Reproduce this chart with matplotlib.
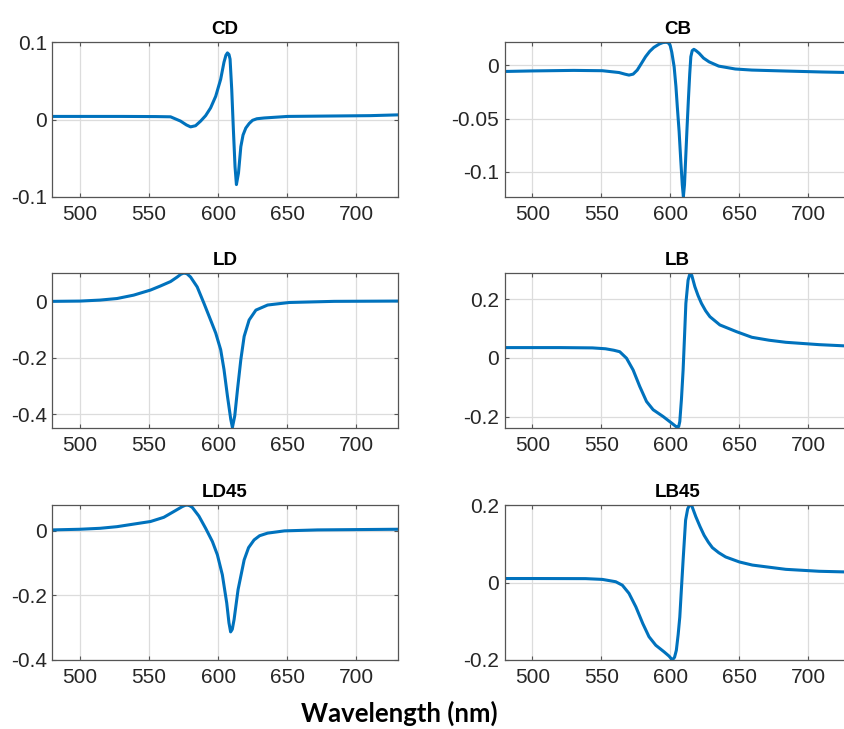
import matplotlib
matplotlib.use('Agg')
import matplotlib.pyplot as plt
import numpy as np

# Wavelength (nm) / value pairs
cd_wl = [480, 500, 530, 555, 565.5, 572.7, 577, 580, 583.6, 587.3, 590.9, 594.5, 598.2, 601.8, 604.2, 605.6, 606.7,
         607.8, 608.6, 609.8, 611, 612.2, 613.2, 614.7, 616.4, 618, 620, 622.5, 624.9, 628, 633.3, 650.3, 680, 710, 730]
cd_val = [0.004, 0.004, 0.004, 0.0038, 0.0035, -0.002, -0.007, -0.0095, -0.008, -0.002, 0.005, 0.015, 0.03, 0.052,
          0.074, 0.083, 0.086, 0.084, 0.078, 0.039, -0.013, -0.061, -0.084, -0.069, -0.035, -0.02, -0.011, -0.005,
          -0.001, 0.001, 0.002, 0.004, 0.0045, 0.005, 0.006]

cb_wl = [480, 500, 530, 550.7, 562.8, 567, 570, 573, 576, 579, 582, 585, 588, 592, 594.5, 596.6, 598.3, 599.8, 601,
         602.7, 604, 605, 606.3, 607.5, 608.6, 609.4, 610.2, 611, 612, 613, 614, 614.8, 615.8, 617, 618.5, 620.8,
         624, 628, 635, 647, 659, 683.6, 710, 730]
cb_val = [-0.006, -0.0055, -0.005, -0.0053, -0.007, -0.0085, -0.0094, -0.0085, -0.0047, 0.0015, 0.0078, 0.0128,
          0.0165, 0.0197, 0.021, 0.0213, 0.021, 0.0185, 0.012, -0.0016, -0.02, -0.039, -0.062, -0.089, -0.112, -0.123,
          -0.112, -0.089, -0.06, -0.033, -0.008, 0.0078, 0.0135, 0.0147, 0.0135, 0.011, 0.0065, 0.003, -0.001,
          -0.0037, -0.0047, -0.0056, -0.0065, -0.007]

ld_wl = [480, 500, 514.5, 526.7, 538.8, 551, 558, 565.5, 570.3, 573, 575.1, 577.3, 580, 584.8, 589.7, 594.5, 598.2,
         601.8, 604.2, 606.7, 609.1, 610.3, 612, 614, 616.4, 618.8, 622.4, 627.3, 635.8, 651.5, 684, 730]
ld_val = [-0.001, 0.0, 0.0035, 0.009, 0.021, 0.039, 0.053, 0.069, 0.085, 0.095, 0.099, 0.097, 0.085, 0.05, -0.008,
          -0.067, -0.113, -0.172, -0.242, -0.336, -0.418, -0.447, -0.406, -0.312, -0.207, -0.125, -0.067, -0.032,
          -0.014, -0.005, -0.001, 0.0]

lb_wl = [480, 500, 520, 543.5, 553, 559, 563.3, 568.2, 573, 577.8, 582.7, 587.5, 594.7, 600.8, 603.5, 604.9, 606,
         606.8, 608, 609.2, 610.2, 611.2, 612.8, 614, 614.5, 615.5, 617.7, 620, 622.5, 625.5, 628.6, 635.8, 647.9,
         659, 671.5, 683.6, 707.7, 730]
lb_val = [0.035, 0.035, 0.035, 0.034, 0.031, 0.026, 0.021, -0.001, -0.041, -0.097, -0.148, -0.176, -0.199, -0.221,
          -0.231, -0.236, -0.233, -0.216, -0.14, -0.041, 0.07, 0.185, 0.264, 0.284, 0.287, 0.28, 0.242, 0.212, 0.185,
          0.16, 0.14, 0.112, 0.089, 0.07, 0.06, 0.053, 0.045, 0.04]

ld45_wl = [480, 500, 514.5, 526.7, 538.8, 551, 560.6, 567.9, 573.9, 576, 577.6, 579.3, 581.2, 586, 590.9, 595.8,
           599.4, 603, 606.2, 607.8, 609, 610.2, 611.5, 614.4, 618.8, 622, 626, 630, 635.8, 648, 672, 730]
ld45_val = [0.003, 0.005, 0.008, 0.013, 0.021, 0.029, 0.042, 0.06, 0.075, 0.079, 0.08, 0.078, 0.073, 0.046, 0.008,
            -0.033, -0.074, -0.136, -0.224, -0.285, -0.313, -0.305, -0.275, -0.182, -0.09, -0.052, -0.028, -0.015,
            -0.007, 0.0, 0.003, 0.005]

lb45_wl = [480, 500, 538.6, 550.7, 560.4, 565.2, 570, 575, 580, 584.5, 589.4, 595.4, 599, 601.4, 603, 604.3, 605.6,
           606.8, 608, 609.2, 610.2, 611, 612.5, 613.6, 614.7, 615.7, 618.4, 621.5, 624.4, 627.5, 630.4, 635, 640,
           650, 659.4, 683.6, 707.7, 730]
lb45_val = [0.0103, 0.0103, 0.01, 0.008, 0.002, -0.007, -0.028, -0.063, -0.106, -0.14, -0.162, -0.179, -0.19, -0.2,
            -0.193, -0.175, -0.135, -0.089, -0.015, 0.058, 0.115, 0.161, 0.19, 0.198, 0.2, 0.196, 0.17, 0.144, 0.122,
            0.104, 0.09, 0.077, 0.066, 0.053, 0.045, 0.034, 0.029, 0.027]

titles = ['CD', 'CB', 'LD', 'LB', 'LD45', 'LB45']
series = [(cd_wl, cd_val), (cb_wl, cb_val), (ld_wl, ld_val), (lb_wl, lb_val), (ld45_wl, ld45_val), (lb45_wl, lb45_val)]
ylims = [(-0.1, 0.1), (-0.1234, 0.0215), (-0.449, 0.099), (-0.238, 0.288), (-0.4, 0.08), (-0.2, 0.2)]
yticks = [[-0.1, 0, 0.1], [-0.1, -0.05, 0], [-0.4, -0.2, 0], [-0.2, 0, 0.2], [-0.4, -0.2, 0], [-0.2, 0, 0.2]]
yticklabels = [['-0.1', '0', '0.1'], ['-0.1', '-0.05', '0'], ['-0.4', '-0.2', '0'],
               ['-0.2', '0', '0.2'], ['-0.4', '-0.2', '0'], ['-0.2', '0', '0.2']]
xticks = [500, 550, 600, 650, 700]

plt.rcParams['font.family'] = ['Liberation Sans', 'DejaVu Sans']

fig = plt.figure(figsize=(8.44, 7.29), dpi=100)

# axes boxes in figure fractions (left column / right column, three rows)
lefts = [0.0622, 0.598]
width = 0.409
bottoms = [0.7298, 0.4129, 0.0947]
height = 0.2125

for i, (title, (wl, val)) in enumerate(zip(titles, series)):
    row, col = divmod(i, 2)
    ax = fig.add_axes([lefts[col], bottoms[row], width, height])
    ax.plot(wl, val, color='#0072BD', lw=2.2, solid_joinstyle='round')
    ax.set_xlim(480, 730)
    ax.set_ylim(*ylims[i])
    ax.set_xticks(xticks)
    ax.set_yticks(yticks[i])
    ax.set_yticklabels(yticklabels[i])
    ax.grid(True, color='#dcdcdc', lw=0.9)
    ax.set_axisbelow(True)
    ax.tick_params(direction='in', length=3, width=0.8, color='#555555', labelsize=15,
                   labelcolor='#262626', top=True, right=True)
    ax.tick_params(axis='x', pad=6)
    ax.tick_params(axis='y', pad=4)
    for s in ax.spines.values():
        s.set_color('#555555')
        s.set_linewidth(0.9)
    ax.set_title(title, fontsize=13.5, fontweight='bold', pad=6)

fig.text(0.473, 0.0096, 'Wavelength (nm)', family=['Lato', 'DejaVu Sans'], fontweight='bold',
         fontsize=18.5, ha='center', va='baseline')

plt.savefig('out.png', dpi=100)
